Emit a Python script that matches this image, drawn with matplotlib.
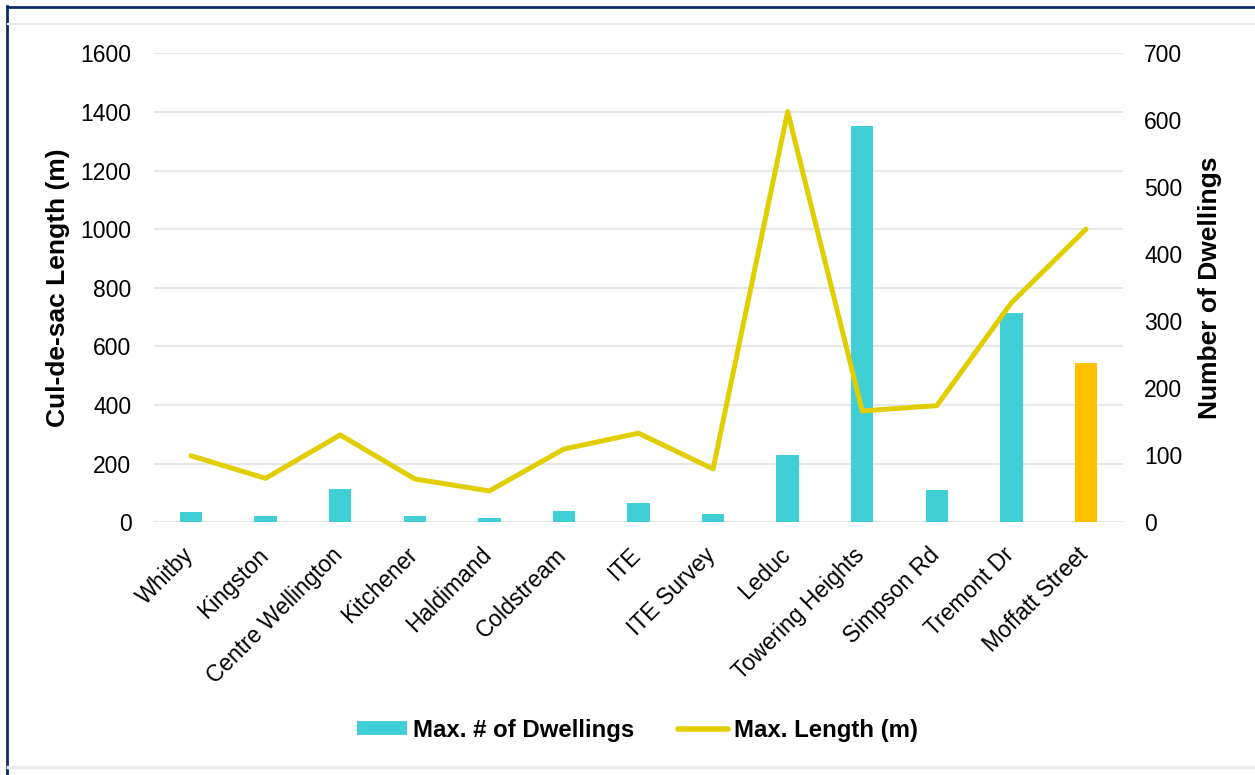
import matplotlib
matplotlib.use('Agg')
import matplotlib.pyplot as plt
from matplotlib.lines import Line2D
from matplotlib.transforms import ScaledTranslation

plt.rcParams['font.family'] = ['Liberation Sans', 'DejaVu Sans']

places = ['Whitby', 'Kingston', 'Centre Wellington', 'Kitchener', 'Haldimand',
          'Coldstream', 'ITE', 'ITE Survey', 'Leduc', 'Towering Heights',
          'Simpson Rd', 'Tremont Dr', 'Moffatt Street']
max_length = [227, 150, 298, 148, 107, 250, 304, 182, 1401, 380, 398, 749, 1000]
max_dwellings = [16, 10, 49, 10, 6, 17, 29, 13, 100, 591, 48, 313, 238]
bar_colors = ['#41CFD6'] * 12 + ['#FFC000']
line_color = '#E0CE00'

fig = plt.figure(figsize=(12.55, 7.75), dpi=100)
W, H = 1255, 775
x0, x1, y_top, y_bot = 153.7, 1123.3, 53.3, 522.3
ax = fig.add_axes([x0 / W, 1 - y_bot / H, (x1 - x0) / W, (y_bot - y_top) / H])

# bottom axes: left scale + gridlines
ax.set_ylim(0, 1600)
ax.set_yticks(range(0, 1601, 200))
ax.grid(axis='y', color='#E6E6E6', linewidth=1.5)
ax.set_xlim(-0.5, len(places) - 0.5)
ax.set_xticks(range(len(places)))
ax.set_xticklabels(places, rotation=45, ha='right', va='center', rotation_mode='anchor')
for s in ax.spines.values():
    s.set_visible(False)
ax.tick_params(axis='both', length=0, labelsize=16.5)
ax.tick_params(axis='y', pad=16)
ax.tick_params(axis='x', pad=21)
shift = ScaledTranslation(-1 / 100, 0, fig.dpi_scale_trans)
for lab in ax.get_xticklabels():
    lab.set_transform(lab.get_transform() + shift)
ax.set_ylabel('Cul-de-sac Length (m)', fontsize=19, fontweight='bold')
ax.yaxis.set_label_coords(-0.086, 0.5)

# middle axes: bars on the right scale
axb = ax.twinx()
axb.set_ylim(0, 700)
axb.set_yticks(range(0, 701, 100))
bars = axb.bar(range(len(places)), max_dwellings, width=0.3, color=bar_colors)
for s in axb.spines.values():
    s.set_visible(False)
axb.tick_params(axis='y', length=0, labelsize=16.5, pad=15)
axb.set_ylabel('Number of Dwellings', fontsize=19, fontweight='bold', rotation=90)
axb.yaxis.set_label_coords(1.077, 0.5)

# top axes: line on the left scale
axl = ax.twinx()
axl.set_ylim(0, 1600)
axl.plot(range(len(places)), max_length, color=line_color, linewidth=3.6,
         solid_joinstyle='round', solid_capstyle='round')
axl.axis('off')

handles = [bars[0], Line2D([], [], color=line_color, linewidth=4, solid_capstyle='round')]
fig.legend(handles, ['Max. # of Dwellings', 'Max. Length (m)'], loc='center',
           bbox_to_anchor=(0.508, 1 - 730 / H), ncol=2, frameon=False,
           prop={'size': 17.3, 'weight': 'bold'}, handlelength=2.08, handleheight=0.5,
           handletextpad=0.25, columnspacing=1.8)

# frame lines of the original figure
fig.add_artist(Line2D([6.5 / W, 1], [1 - 6.5 / H] * 2, color='#0B2A6F', linewidth=2))
fig.add_artist(Line2D([6.5 / W] * 2, [0, 1 - 6 / H], color='#0B2A6F', linewidth=2))
fig.add_artist(Line2D([8 / W, 1], [1 - 24 / H] * 2, color='#EBEBEB', linewidth=1.5))
fig.add_artist(Line2D([8 / W, 1], [1 - 767 / H] * 2, color='#EBEDED', linewidth=2.5))

fig.savefig('out.png', dpi=100)
